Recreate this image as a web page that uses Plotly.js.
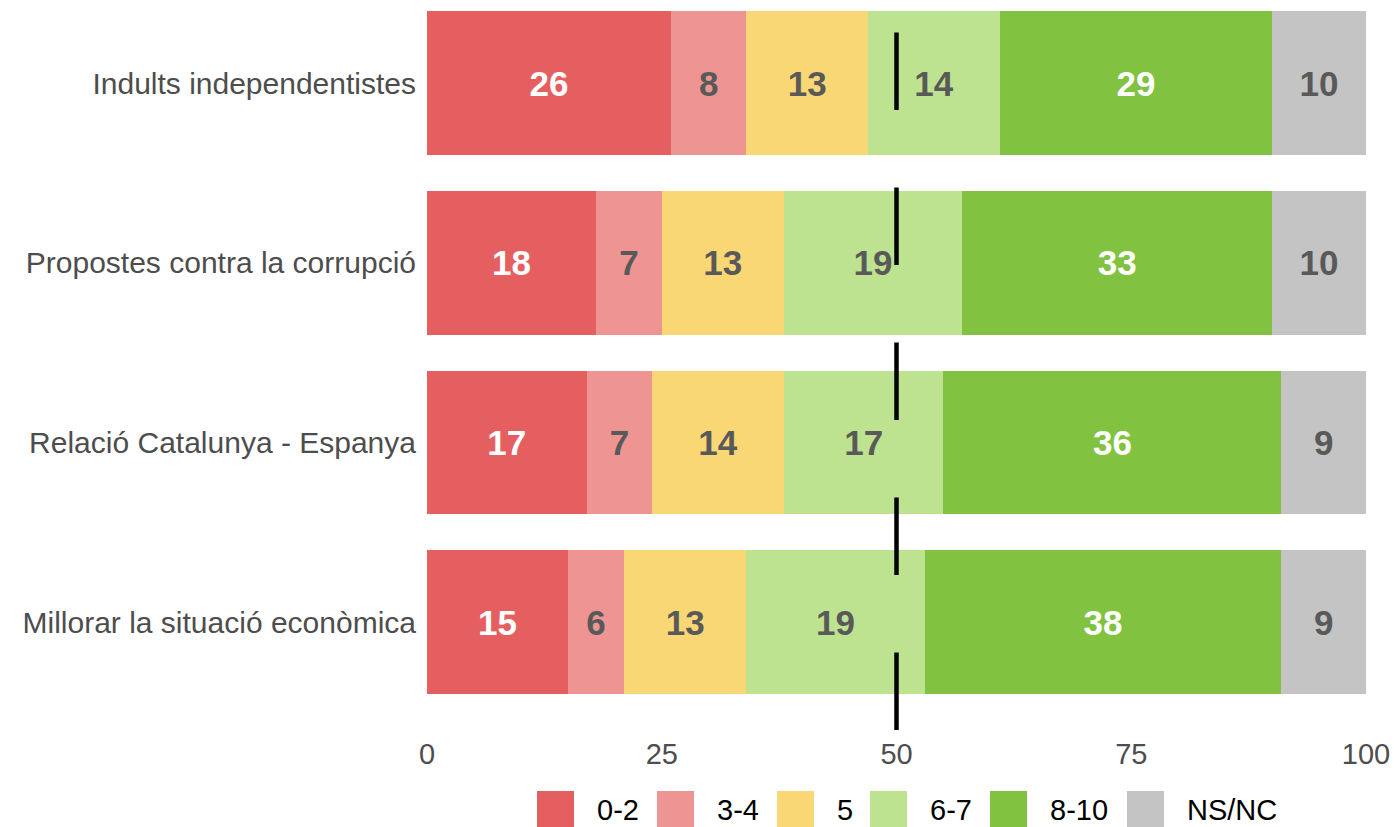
<!DOCTYPE html>
<html>
<head>
<meta charset="utf-8">
<script src="https://cdn.plot.ly/plotly-3.0.1.min.js"></script>
<style>
html,body{margin:0;padding:0;background:#fff;}
#chart{width:1394px;height:827px;}
</style>
</head>
<body>
<div id="chart"></div>
<script>
// ---- data ----
var categories = [
  "Indults independentistes",
  "Propostes contra la corrupció",
  "Relació Catalunya - Espanya",
  "Millorar la situació econòmica"
];
var seriesNames = ["0-2", "3-4", "5", "6-7", "8-10", "NS/NC"];
var v02   = [26, 18, 17, 15];
var v34   = [8, 7, 7, 6];
var v5    = [13, 13, 14, 13];
var v67   = [14, 19, 17, 19];
var v810  = [29, 33, 36, 38];
var vNSNC = [10, 10, 9, 9];
var xTicks = [0, 25, 50, 75, 100];
var referenceValue = 50;

// ---- styles ----
var seriesValues = [v02, v34, v5, v67, v810, vNSNC];
var colors = ["#E65F60", "#EE9594", "#F8D774", "#BDE390", "#81C240", "#C4C4C4"];
var labelColors = ["#FFFFFF", "#595959", "#595959", "#595959", "#FFFFFF", "#595959"];
var FONT = "Liberation Sans, Arial, Helvetica, sans-serif";

var traces = seriesNames.map(function (name, i) {
  return {
    type: "bar",
    orientation: "h",
    name: name,
    y: categories,
    x: seriesValues[i],
    marker: { color: colors[i], line: { width: 0 } },
    text: seriesValues[i].map(String),
    texttemplate: "%{text}",
    textposition: "inside",
    insidetextanchor: "middle",
    constraintext: "none",
    textfont: { family: FONT, size: 35, color: labelColors[i], weight: "bold" },
    hoverinfo: "skip",
    showlegend: false,
    width: 0.8
  };
});

// plot area geometry (pixels) used for manual legend
var W = 1394, H = 827;
var mL = 427, mR = 28, mT = 0, mB = 97;
var pw = W - mL - mR, ph = H - mT - mB;
function px2x(px) { return (px - mL) / pw; }
function py2y(py) { return (H - mB - py) / ph; }

var legendSquareX = [537, 657, 777, 870, 990, 1127];
var sq = 37, legTop = 791, legBot = 828;

var shapes = [{
  type: "line", xref: "x", yref: "y",
  x0: referenceValue, x1: referenceValue, y0: 3.6, y1: -0.462,
  line: { color: "#000000", width: 4.5, dash: "77.5px,77.5px" },
  layer: "above"
}];
var annotations = [];
seriesNames.forEach(function (name, i) {
  var x0 = legendSquareX[i];
  shapes.push({
    type: "rect", xref: "paper", yref: "paper",
    x0: px2x(x0), x1: px2x(x0 + sq), y0: py2y(legBot), y1: py2y(legTop),
    fillcolor: colors[i], line: { width: 0 }
  });
  annotations.push({
    xref: "paper", yref: "paper",
    x: px2x(x0 + sq + 21), y: py2y((legTop + legBot) / 2),
    xanchor: "left", yanchor: "middle",
    text: name, showarrow: false,
    font: { family: FONT, size: 29, color: "#000000" }
  });
});

var layout = {
  width: W, height: H,
  margin: { l: mL, r: mR, t: mT, b: mB, pad: 0 },
  paper_bgcolor: "#FFFFFF",
  plot_bgcolor: "#FFFFFF",
  barmode: "stack",
  showlegend: false,
  xaxis: {
    range: [0, 100],
    tickvals: xTicks,
    ticktext: xTicks.map(String),
    showgrid: false, zeroline: false, showline: false,
    ticks: "",
    ticklabelstandoff: 4,
    tickfont: { family: FONT, size: 29, color: "#4D4D4D" },
    fixedrange: true
  },
  yaxis: {
    type: "category",
    categoryorder: "array",
    categoryarray: categories,
    range: [3.6, -0.462],
    showgrid: false, zeroline: false, showline: false,
    ticks: "",
    ticklabelstandoff: 10,
    tickfont: { family: FONT, size: 30, color: "#4D4D4D" },
    fixedrange: true
  },
  shapes: shapes,
  annotations: annotations
};

Plotly.newPlot("chart", traces, layout, { displayModeBar: false, staticPlot: true });
</script>
</body>
</html>
